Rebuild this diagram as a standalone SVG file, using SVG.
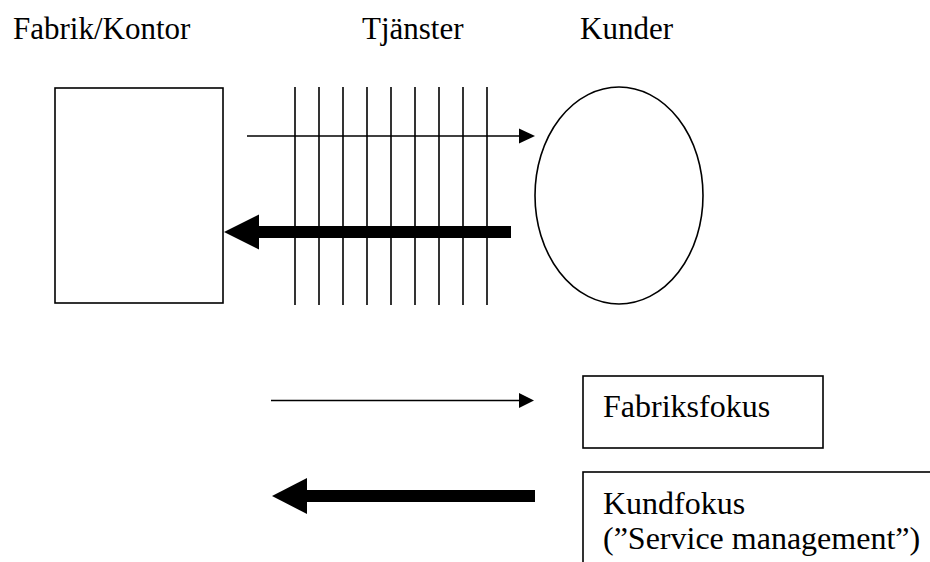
<svg xmlns="http://www.w3.org/2000/svg" width="930" height="562" viewBox="0 0 930 562">
<style>
text{font-family:'Liberation Serif','DejaVu Serif',serif;font-size:31px;fill:#000}
text.b{font-size:32px}
.s{fill:none;stroke:#000;stroke-width:1.6}
.v{stroke:#000;stroke-width:1.6}
</style>
<rect width="930" height="562" fill="#fff"/>
<g id="label-fabrik"><text x="13" y="39">Fabrik/Kontor</text></g>
<g id="label-tjanster"><text x="362" y="39">Tjänster</text></g>
<g id="label-kunder"><text x="580" y="39">Kunder</text></g>
<g id="fabrik"><rect class="s" x="55" y="88" width="168" height="215"/></g>
<g id="kunder"><ellipse class="s" cx="619" cy="195.5" rx="84" ry="108.5"/></g>
<g id="tjanster">
<line class="v" x1="295" y1="87" x2="295" y2="305"/>
<line class="v" x1="319" y1="87" x2="319" y2="305"/>
<line class="v" x1="343" y1="87" x2="343" y2="305"/>
<line class="v" x1="367" y1="87" x2="367" y2="305"/>
<line class="v" x1="391" y1="87" x2="391" y2="305"/>
<line class="v" x1="415" y1="87" x2="415" y2="305"/>
<line class="v" x1="439" y1="87" x2="439" y2="305"/>
<line class="v" x1="463" y1="87" x2="463" y2="305"/>
<line class="v" x1="487" y1="87" x2="487" y2="305"/>
</g>
<g id="connectors">
<line class="v" x1="247" y1="136" x2="520" y2="136"/>
<polygon points="519,128.5 535,136 519,143.5" fill="#000"/>
<rect x="258" y="226" width="253" height="12" fill="#000"/>
<polygon points="259,214.5 224,232 259,249.5" fill="#000"/>
<line class="v" x1="271" y1="400.5" x2="520" y2="400.5"/>
<polygon points="519,393 534,400.5 519,408" fill="#000"/>
<rect x="306" y="490" width="229" height="12" fill="#000"/>
<polygon points="307,478 272,496 307,514" fill="#000"/>
</g>
<g id="fabriksfokus">
<rect class="s" x="583" y="376" width="240" height="72"/>
<text class="b" x="603" y="417">Fabriksfokus</text>
</g>
<g id="kundfokus">
<rect class="s" x="583" y="472" width="360" height="110"/>
<text class="b" x="603" y="514">Kundfokus</text>
<text class="b" x="603" y="549">(”Service management”)</text>
</g>
</svg>
